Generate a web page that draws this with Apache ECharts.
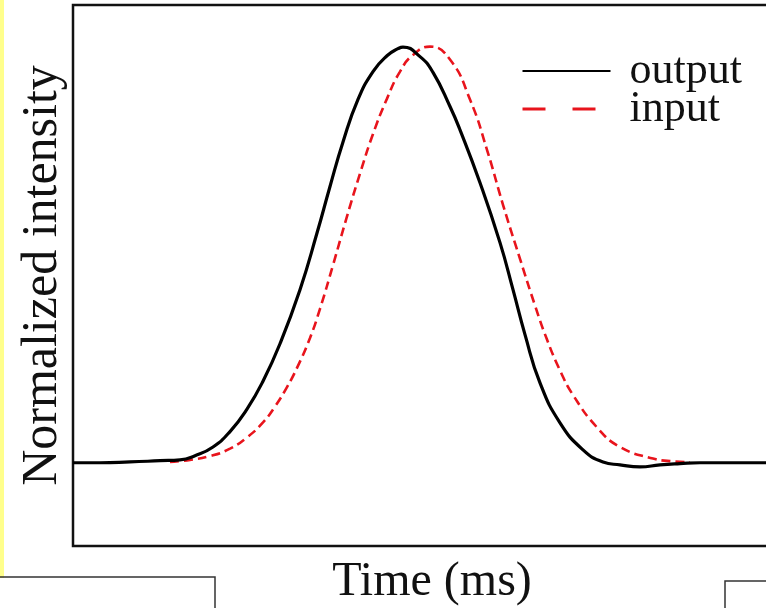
<!DOCTYPE html>
<html>
<head>
<meta charset="utf-8">
<script src="https://cdn.jsdelivr.net/npm/echarts@6/dist/echarts.min.js"></script>
<style>
html,body{margin:0;padding:0;background:#fff;}
#chart{width:766px;height:608px;}
</style>
</head>
<body>
<div id="chart"></div>
<script>
// Output (measured) pulse
const timeOut = [0,2.7,5.7,8.7,10.7,12.2,14.0,15.7,17.4,19.0,20.7,22.7,24.4,25.7,27.0,28.5,30.0,31.4,32.5,33.0,34.7,36.0,37.7,38.7,40.7,42.7,44.0,45.2,46.7,48.7,51.0,53.0,54.7,56.7,58.7,60.7,62.7,65.7,69.3,70];
const outputVals = [0,0,0.002,0.005,0.007,0.017,0.038,0.075,0.129,0.196,0.286,0.416,0.552,0.664,0.771,0.873,0.940,0.978,0.995,0.999,0.976,0.938,0.856,0.800,0.673,0.529,0.416,0.308,0.192,0.096,0.031,0.002,-0.005,-0.010,-0.005,-0.002,0,0,0,0];
// Input pulse
const timeIn = [9.7,11.7,13.7,15.7,17.4,19.0,20.2,21.4,22.4,23.7,24.7,26.0,27.4,28.7,30.0,31.4,32.7,34.0,35.7,37.7,39.7,41.4,43.0,44.7,46.2,47.4,48.7,50.0,52.4,54.7,58.0,59.7,61.7];
const inputVals = [0.002,0.007,0.016,0.034,0.061,0.097,0.135,0.182,0.228,0.300,0.370,0.475,0.592,0.695,0.790,0.875,0.940,0.980,1.000,0.969,0.873,0.752,0.620,0.490,0.378,0.296,0.222,0.163,0.085,0.038,0.010,0.004,0.001];

const seriesNames = ['output','input'];
const xTitle = 'Time (ms)';
const yTitle = 'Normalized intensity';

const serif = "'Liberation Serif', 'Times New Roman', serif";
const chart = echarts.init(document.getElementById('chart'), null, {renderer:'canvas'});

chart.setOption({
  backgroundColor:'#fff',
  animation:false,
  grid:{left:73, top:5, right:-7, bottom:62, show:true, borderColor:'#111', borderWidth:2.5, backgroundColor:'transparent', containLabel:false, outerBoundsMode:'none'},
  xAxis:{
    type:'value', min:0, max:70,
    name:xTitle, nameLocation:'middle', nameGap:12,
    nameTextStyle:{fontFamily:serif, fontSize:48, color:'#111', padding:[0,0,0,18]},
    axisLine:{show:false}, axisTick:{show:false}, axisLabel:{show:false}, splitLine:{show:false}
  },
  yAxis:{
    type:'value', min:-0.2, max:1.1,
    name:yTitle, nameLocation:'middle', nameGap:5,
    nameTextStyle:{fontFamily:serif, fontSize:50, color:'#111', padding:[0,0,0,0]},
    axisLine:{show:false}, axisTick:{show:false}, axisLabel:{show:false}, splitLine:{show:false}
  },
  legend:{
    orient:'vertical', left:521, top:49, padding:0,
    itemWidth:88, itemHeight:14, itemGap:-6,
    itemStyle:{opacity:0},
    textStyle:{fontFamily:serif, fontSize:44, color:'#111', padding:[0,0,0,14]},
    data:[
      {name:seriesNames[0]},
      {name:seriesNames[1], lineStyle:{type:[23,27], width:3}}
    ]
  },
  graphic:[
    {type:'rect', shape:{x:0,y:0,width:4,height:578}, style:{fill:'#ffff8c'}, z:100},
    {type:'polyline', shape:{points:[[0,577],[215,577],[215,608]]}, style:{stroke:'#333', lineWidth:1.5, fill:null}, z:100},
    {type:'polyline', shape:{points:[[766,581],[725,581],[725,608]]}, style:{stroke:'#333', lineWidth:1.5, fill:null}, z:100}
  ],
  series:[
    {
      name:seriesNames[0], type:'line', symbol:'none', smooth:true,
      data: timeOut.map((t,i)=>[t, outputVals[i]]),
      lineStyle:{color:'#000', width:3.2}, itemStyle:{color:'#000'}, z:3
    },
    {
      name:seriesNames[1], type:'line', symbol:'none', smooth:true,
      data: timeIn.map((t,i)=>[t, inputVals[i]]),
      lineStyle:{color:'#e8141c', width:2.6, type:[9,5]}, itemStyle:{color:'#e8141c'}, z:2
    }
  ]
});
</script>
</body>
</html>
